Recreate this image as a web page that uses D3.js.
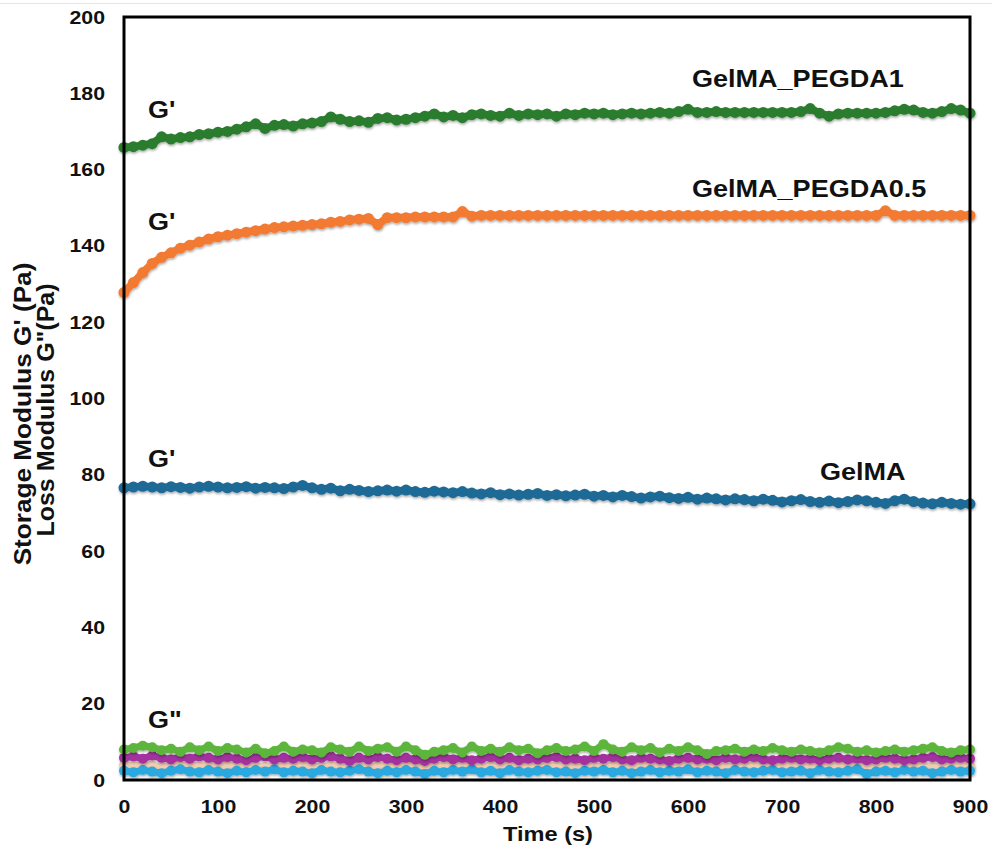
<!DOCTYPE html>
<html>
<head>
<meta charset="utf-8">
<script src="https://cdn.jsdelivr.net/npm/d3@7"></script>
<style>
  body { margin: 0; background: #fff; }
  text { font-family: "Liberation Sans", Arial, sans-serif; font-weight: bold; fill: #111; }
</style>
</head>
<body>
<div id="chart"></div>
<script>
// time points (s)
var times = [
  0, 10, 20, 30, 40, 50, 60, 70, 80, 90,
  100, 110, 120, 130, 140, 150, 160, 170, 180, 190,
  200, 210, 220, 230, 240, 250, 260, 270, 280, 290,
  300, 310, 320, 330, 340, 350, 360, 370, 380, 390,
  400, 410, 420, 430, 440, 450, 460, 470, 480, 490,
  500, 510, 520, 530, 540, 550, 560, 570, 580, 590,
  600, 610, 620, 630, 640, 650, 660, 670, 680, 690,
  700, 710, 720, 730, 740, 750, 760, 770, 780, 790,
  800, 810, 820, 830, 840, 850, 860, 870, 880, 890,
  900];

// storage modulus G' (Pa)
var gPegda1 = [
  165.8, 166.0, 166.4, 166.8, 168.6, 168.0, 168.4, 168.6, 169.2, 169.4,
  169.8, 170.0, 170.6, 171.2, 172.0, 170.8, 171.6, 171.8, 171.4, 172.0,
  172.2, 172.6, 173.8, 173.2, 172.6, 172.8, 172.4, 173.4, 173.6, 173.0,
  173.2, 173.6, 174.0, 174.6, 173.8, 174.2, 173.6, 174.4, 174.6, 174.2,
  174.0, 174.8, 174.2, 174.6, 174.4, 174.6, 174.0, 174.6, 174.4, 174.8,
  174.6, 174.8, 174.4, 174.6, 174.8, 174.6, 174.8, 175.0, 174.8, 175.2,
  175.8, 175.0, 175.0, 175.2, 175.0, 175.0, 175.0, 175.0, 175.0, 175.0,
  175.0, 175.0, 175.2, 176.0, 174.8, 174.0, 174.6, 174.8, 174.8, 174.8,
  174.8, 175.0, 175.4, 175.8, 175.6, 175.0, 174.8, 175.2, 176.0, 175.6,
  174.8];

var gPegda05 = [
  127.8, 130.4, 133.0, 135.4, 137.0, 138.2, 139.4, 140.2, 141.0, 141.8,
  142.4, 142.8, 143.2, 143.6, 144.0, 144.4, 144.8, 145.0, 145.2, 145.4,
  145.6, 145.8, 146.2, 146.4, 146.8, 147.0, 147.2, 145.6, 147.4, 147.4,
  147.4, 147.6, 147.6, 147.6, 147.6, 147.6, 149.0, 147.8, 148.0, 148.0,
  148.0, 148.0, 148.0, 148.0, 148.0, 148.0, 148.0, 148.0, 148.0, 148.0,
  148.0, 148.0, 148.0, 148.0, 148.0, 148.0, 148.0, 148.0, 148.0, 148.0,
  148.0, 148.0, 148.0, 148.0, 148.0, 148.0, 148.0, 148.0, 148.0, 148.0,
  148.0, 148.0, 148.0, 148.0, 148.0, 148.0, 148.0, 148.0, 148.0, 148.0,
  148.0, 149.2, 148.0, 148.0, 148.0, 148.0, 148.0, 148.0, 148.0, 148.0,
  148.0];

var gGelma = [
  76.6, 76.8, 77.0, 76.8, 76.6, 76.9, 76.7, 76.5, 76.8, 77.0,
  76.8, 76.6, 76.7, 76.9, 76.5, 76.7, 76.6, 76.4, 76.8, 77.2,
  76.6, 76.2, 76.5, 75.8, 76.2, 75.9, 75.6, 75.8, 76.0, 75.7,
  76.0, 75.6, 75.4, 75.7, 75.5, 75.3, 75.6, 75.2, 75.0, 75.3,
  74.8, 75.0, 74.7, 74.9, 75.1, 74.6, 74.8, 74.5, 74.7, 74.9,
  74.4, 74.6, 74.2, 74.6, 74.3, 73.9, 74.2, 74.4, 74.0, 73.8,
  74.1, 73.6, 73.9, 73.7, 73.4, 73.7, 73.5, 73.2, 73.6, 73.3,
  72.9, 73.2, 73.5, 73.0, 72.8, 73.1, 72.7, 73.0, 73.4, 73.2,
  72.8, 72.5, 73.2, 73.6, 73.0, 72.6, 72.4, 72.8, 72.5, 72.3,
  72.4];

// loss modulus G'' (Pa)
var lPegda1 = [
  8.0, 8.4, 9.0, 8.6, 7.8, 8.2, 7.4, 8.6, 7.8, 8.8,
  7.6, 8.4, 8.0, 7.2, 8.2, 7.0, 7.6, 8.8, 7.4, 8.0,
  7.8, 7.2, 8.6, 8.0, 7.4, 8.8, 7.6, 8.2, 8.6, 7.4,
  8.8, 7.8, 6.6, 7.4, 7.8, 8.4, 7.2, 8.8, 7.6, 8.2,
  7.4, 8.6, 7.8, 8.2, 7.0, 7.8, 8.4, 7.6, 8.0, 8.8,
  7.6, 9.4, 8.0, 7.4, 8.6, 7.8, 8.4, 7.2, 8.2, 7.6,
  8.6, 7.8, 6.8, 7.6, 7.8, 8.2, 7.4, 8.0, 7.6, 8.4,
  7.8, 7.4, 8.0, 7.6, 7.2, 7.8, 8.6, 8.2, 7.4, 7.8,
  7.2, 7.6, 8.0, 7.4, 7.8, 8.2, 8.6, 7.6, 7.2, 7.8,
  8.0];

var lPegda05 = [
  5.8, 6.2, 5.6, 6.4, 5.8, 5.4, 6.0, 5.6, 6.2, 5.8,
  5.4, 6.0, 5.6, 5.2, 5.8, 6.2, 5.4, 5.8, 5.6, 6.0,
  5.4, 5.8, 6.2, 5.6, 5.0, 5.8, 5.4, 6.0, 5.6, 5.2,
  5.8, 5.4, 5.0, 5.6, 6.0, 5.4, 5.8, 5.2, 5.6, 6.0,
  5.4, 5.8, 5.2, 5.6, 5.4, 5.8, 6.0, 5.4, 5.6, 5.2,
  5.8, 5.6, 6.0, 5.4, 5.2, 5.8, 5.6, 5.4, 5.0, 5.6,
  5.8, 5.4, 5.6, 5.2, 5.8, 5.4, 5.6, 6.0, 5.4, 5.2,
  5.6, 5.8, 5.4, 5.6, 5.2, 5.6, 5.8, 5.4, 5.6, 5.2,
  5.4, 5.8, 5.6, 5.2, 5.4, 5.8, 6.0, 5.4, 5.6, 5.8,
  5.6];

var lFaint = [
  3.8, 3.6, 4.0, 3.8, 3.4, 3.8, 3.6, 4.0, 3.6, 3.8,
  3.4, 3.8, 3.6, 4.0, 3.6, 3.4, 3.8, 3.6, 3.8, 4.0,
  3.6, 3.4, 3.8, 3.6, 4.0, 3.8, 3.4, 3.6, 3.8, 3.6,
  4.0, 3.6, 3.4, 3.8, 3.6, 3.8, 4.0, 3.6, 3.4, 3.8,
  3.6, 3.8, 4.0, 3.6, 3.4, 3.8, 3.6, 3.8, 3.6, 4.0,
  3.6, 3.4, 3.8, 3.6, 3.8, 4.0, 3.6, 3.4, 3.8, 3.6,
  3.8, 3.6, 4.0, 3.6, 3.4, 3.8, 3.6, 3.8, 3.6, 3.4,
  3.8, 4.0, 3.6, 3.8, 3.4, 3.6, 3.8, 3.6, 4.0, 3.6,
  3.4, 3.8, 3.6, 3.8, 4.0, 3.6, 3.4, 3.8, 3.6, 3.8,
  3.6];

var lGelma = [
  2.4, 2.0, 2.6, 2.2, 1.8, 2.4, 2.8, 2.2, 2.0, 2.6,
  2.2, 1.8, 2.4, 2.0, 2.6, 2.2, 2.8, 2.0, 2.4, 2.2,
  1.8, 2.6, 2.2, 2.0, 2.4, 2.8, 2.2, 1.8, 2.4, 2.0,
  2.6, 2.2, 1.6, 2.4, 2.0, 2.6, 2.2, 2.8, 2.0, 2.4,
  1.8, 2.6, 2.2, 2.0, 2.4, 2.6, 2.0, 2.2, 1.8, 2.4,
  2.2, 2.6, 2.0, 2.4, 1.8, 2.2, 2.6, 2.0, 2.4, 2.2,
  2.8, 2.0, 2.4, 2.2, 1.8, 2.6, 2.2, 2.0, 2.4, 2.6,
  2.0, 2.2, 2.4, 1.8, 2.6, 2.2, 2.0, 2.4, 2.8, 1.6,
  2.2, 2.4, 2.0, 2.6, 2.2, 2.4, 1.8, 2.2, 2.6, 2.2,
  2.4];

var xTicks = [0, 100, 200, 300, 400, 500, 600, 700, 800, 900];
var yTicks = [0, 20, 40, 60, 80, 100, 120, 140, 160, 180, 200];

// draw order: loss moduli at the back, then storage moduli
var series = [
  { values: lFaint, color: "#f1cdb0", r: 5 },
  { values: lGelma, color: "#2ba8e0", r: 5 },
  { values: lPegda05, color: "#a3329f", r: 5 },
  { values: lPegda1, color: "#5cb63b", r: 5 },
  { values: gGelma, color: "#1f6b95", r: 5.5 },
  { values: gPegda05, color: "#f27a30", r: 5.5 },
  { values: gPegda1, color: "#2c7c2d", r: 5.5 }
];

var labels = [
  { text: "G'", x: 148, y: 118 },
  { text: "G'", x: 148, y: 230 },
  { text: "G'", x: 148, y: 467 },
  { text: "G\"", x: 148, y: 728 },
  { text: "GelMA_PEGDA1", x: 692, y: 87 },
  { text: "GelMA_PEGDA0.5", x: 692, y: 197 },
  { text: "GelMA", x: 820, y: 480 }
];

var width = 992, height = 853;
var plot = { left: 124, top: 17, right: 970, bottom: 780 };

var svg = d3.select("#chart")
  .append("svg")
  .attr("width", width)
  .attr("height", height);

var defs = svg.append("defs");
defs.append("filter")
  .attr("id", "shade")
  .attr("x", "-5%").attr("y", "-50%")
  .attr("width", "110%").attr("height", "200%")
  .append("feDropShadow")
  .attr("dx", 0.5).attr("dy", 1.5)
  .attr("stdDeviation", 1)
  .attr("flood-color", "#000")
  .attr("flood-opacity", 0.35);

// faint line at the very top of the picture
svg.append("line")
  .attr("x1", 0).attr("x2", width)
  .attr("y1", 3.5).attr("y2", 3.5)
  .attr("stroke", "#e6e6e6")
  .attr("stroke-width", 1);

var x = d3.scaleLinear()
  .domain([0, 900])
  .range([plot.left, plot.right]);

var y = d3.scaleLinear()
  .domain([0, 200])
  .range([plot.bottom, plot.top]);

// stretch text horizontally a bit, like the reference
function stretch(sel, k) {
  sel.each(function () {
    var w = this.getComputedTextLength();
    d3.select(this)
      .attr("textLength", w * k)
      .attr("lengthAdjust", "spacingAndGlyphs");
  });
}

// data
var line = d3.line()
  .x(function (d) { return x(d.t); })
  .y(function (d) { return y(d.v); });

series.forEach(function (s) {
  var pts = times.map(function (t, i) { return { t: t, v: s.values[i] }; });
  var g = svg.append("g").attr("filter", "url(#shade)");
  g.append("path")
    .datum(pts)
    .attr("d", line)
    .attr("fill", "none")
    .attr("stroke", s.color)
    .attr("stroke-width", s.r * 1.4)
    .attr("stroke-linejoin", "round");
  g.selectAll("circle")
    .data(pts)
    .enter()
    .append("circle")
    .attr("cx", function (d) { return x(d.t); })
    .attr("cy", function (d) { return y(d.v); })
    .attr("r", s.r)
    .attr("fill", s.color);
});

// frame
svg.append("rect")
  .attr("x", plot.left)
  .attr("y", plot.top)
  .attr("width", plot.right - plot.left)
  .attr("height", plot.bottom - plot.top)
  .attr("fill", "none")
  .attr("stroke", "#000")
  .attr("stroke-width", 3);

// axes
var yAxis = svg.append("g")
  .attr("transform", "translate(" + plot.left + ",0)")
  .call(d3.axisLeft(y).tickValues(yTicks).tickSize(0).tickPadding(19));
var xAxis = svg.append("g")
  .attr("transform", "translate(0," + plot.bottom + ")")
  .call(d3.axisBottom(x).tickValues(xTicks).tickSize(0).tickPadding(20));

[yAxis, xAxis].forEach(function (a) {
  a.select(".domain").remove();
  a.selectAll("text")
    .attr("fill", "#111")
    .style("font-family", "'Liberation Sans', Arial, sans-serif")
    .style("font-weight", "bold")
    .style("font-size", "19px");
  stretch(a.selectAll("text"), 1.12);
});

// axis titles
var xTitle = svg.append("text")
  .attr("x", (plot.left + plot.right) / 2 + 1)
  .attr("y", 841)
  .attr("text-anchor", "middle")
  .style("font-size", "20.5px")
  .text("Time (s)");
stretch(xTitle, 1.15);

var yTitle1 = svg.append("text")
  .attr("transform", "translate(31,414)rotate(-90)")
  .attr("text-anchor", "middle")
  .style("font-size", "24px")
  .text("Storage Modulus G' (Pa)");
stretch(yTitle1, 1.09);

var yTitle2 = svg.append("text")
  .attr("transform", "translate(54,410)rotate(-90)")
  .attr("text-anchor", "middle")
  .style("font-size", "24px")
  .text("Loss Modulus G\"(Pa)");
stretch(yTitle2, 1.04);

// curve labels
var lab = svg.selectAll(".lab")
  .data(labels)
  .enter()
  .append("text")
  .attr("class", "lab")
  .attr("x", function (d) { return d.x; })
  .attr("y", function (d) { return d.y; })
  .style("font-size", "23.5px")
  .text(function (d) { return d.text; });
stretch(lab, 1.15);
</script>
</body>
</html>
